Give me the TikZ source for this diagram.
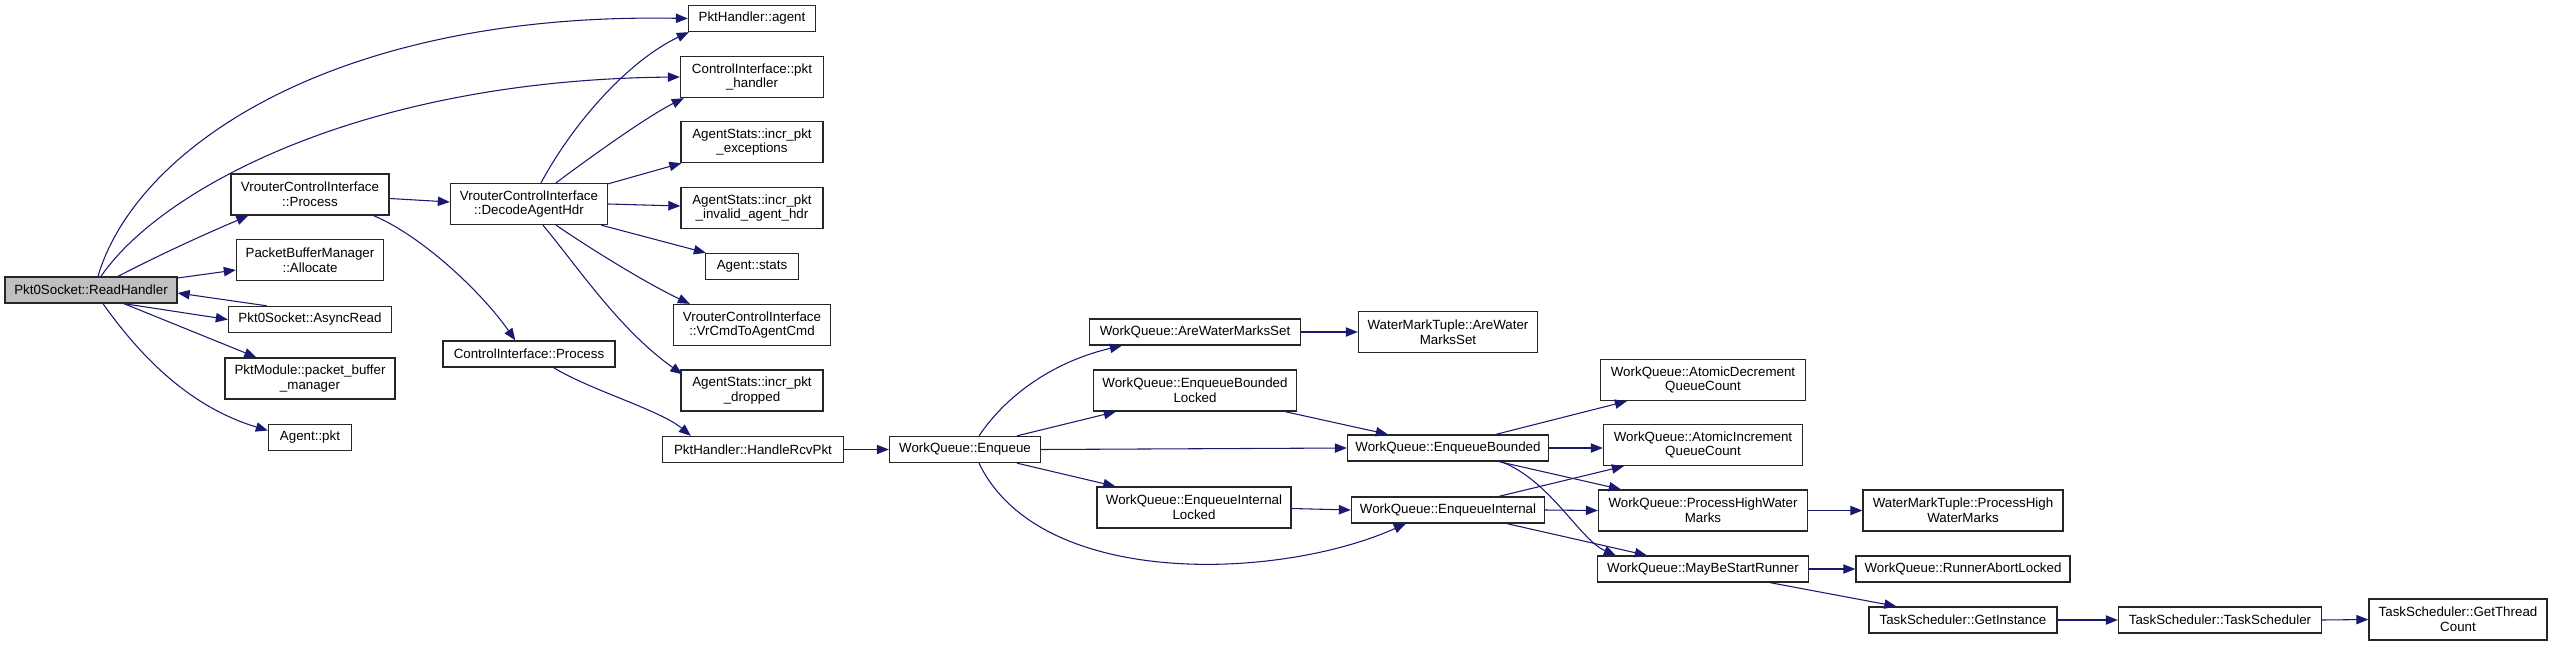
\documentclass[tikz,border=0pt]{standalone}
\usepackage{fontspec}
\setmainfont{Liberation Sans}
\usetikzlibrary{arrows.meta,calc}
\definecolor{callblue}{HTML}{191970}
\tikzset{
  fn/.style={draw=black!85, line width=1pt, fill=white, font=\fontsize{10}{11}\selectfont, align=center, inner xsep=2pt, inner ysep=0pt, minimum height=19.5pt},
  fntwo/.style={fn, minimum height=30.75pt},
  call/.style={draw=callblue, line width=0.8pt, -{Triangle[length=9pt,width=7pt]}}
}
\begin{document}
\begin{tikzpicture}[x=0.75pt,y=-0.75pt]
    \useasboundingbox (0,0) rectangle (2552,646);
    % boxes
    \node [fn, fill=black!25, minimum width=129pt] (readh) at (91,290) {Pkt0Socket::ReadHandler};
    \node [fntwo, minimum width=118.5pt] (vciproc) at (310,194.5) {VrouterControlInterface\\::Process};
    \node [fntwo, minimum width=110.25pt] (pbmalloc) at (310,260) {PacketBufferManager\\::Allocate};
    \node [fn, minimum width=122.25pt] (asyncread) at (310,319.5) {Pkt0Socket::AsyncRead};
    \node [fntwo, minimum width=127.5pt] (pktmodpbm) at (310,378.5) {PktModule::packet\_buffer\\\_manager};
    \node [fn, minimum width=62.25pt] (agentpkt) at (310,437.5) {Agent::pkt};
    \node [fntwo, minimum width=117.75pt] (decode) at (529,204) {VrouterControlInterface\\::DecodeAgentHdr};
    \node [fn, minimum width=129pt] (ciproc) at (529,354) {ControlInterface::Process};
    \node [fn, minimum width=95.25pt] (pkhagent) at (752,18.5) {PktHandler::agent};
    \node [fntwo, minimum width=107.25pt] (cipkth) at (752,77) {ControlInterface::pkt\\\_handler};
    \node [fntwo, minimum width=106.5pt] (exc) at (752,142) {AgentStats::incr\_pkt\\\_exceptions};
    \node [fntwo, minimum width=106.5pt] (invhdr) at (752,208) {AgentStats::incr\_pkt\\\_invalid\_agent\_hdr};
    \node [fn, minimum width=69.75pt] (stats) at (752,266.5) {Agent::stats};
    \node [fntwo, minimum width=117.75pt] (vrcmd) at (752,325) {VrouterControlInterface\\::VrCmdToAgentCmd};
    \node [fntwo, minimum width=106.5pt] (dropped) at (752,390.5) {AgentStats::incr\_pkt\\\_dropped};
    \node [fn, minimum width=135.75pt] (handlercv) at (753,449.5) {PktHandler::HandleRcvPkt};
    \node [fn, minimum width=113.25pt] (enq) at (965,449.5) {WorkQueue::Enqueue};
    \node [fn, minimum width=158.25pt] (arewms) at (1195,332) {WorkQueue::AreWaterMarksSet};
    \node [fntwo, minimum width=152.25pt] (ebl) at (1195,390.5) {WorkQueue::EnqueueBounded\\Locked};
    \node [fntwo, minimum width=145.5pt] (eil) at (1194,507.5) {WorkQueue::EnqueueInternal\\Locked};
    \node [fn, minimum width=150.75pt] (eb) at (1448,448) {WorkQueue::EnqueueBounded};
    \node [fn, minimum width=144.75pt] (ei) at (1448,510) {WorkQueue::EnqueueInternal};
    \node [fntwo, minimum width=134.25pt] (wmtaws) at (1448,332) {WaterMarkTuple::AreWater\\MarksSet};
    \node [fntwo, minimum width=153.75pt] (adqc) at (1703,380) {WorkQueue::AtomicDecrement\\QueueCount};
    \node [fntwo, minimum width=149.25pt] (aiqc) at (1703,445) {WorkQueue::AtomicIncrement\\QueueCount};
    \node [fntwo, minimum width=156.75pt] (phwm) at (1703,510.5) {WorkQueue::ProcessHighWater\\Marks};
    \node [fn, minimum width=158.25pt] (mbsr) at (1703,569) {WorkQueue::MayBeStartRunner};
    \node [fntwo, minimum width=150pt] (wmtphwm) at (1963,510.5) {WaterMarkTuple::ProcessHigh\\WaterMarks};
    \node [fn, minimum width=160.5pt] (ral) at (1963,569) {WorkQueue::RunnerAbortLocked};
    \node [fn, minimum width=141pt] (getinst) at (1963,620) {TaskScheduler::GetInstance};
    \node [fn, minimum width=152.25pt] (tsts) at (2220,620) {TaskScheduler::TaskScheduler};
    \node [fntwo, minimum width=133.5pt] (gtc) at (2458,619.5) {TaskScheduler::GetThread\\Count};
    % calls from ReadHandler
    \draw [call] ($(readh.north)+(7,0)$) .. controls (135,150) and (330,12) .. (pkhagent.west);
    \draw [call] ($(readh.north)+(10,0)$) .. controls (160,190) and (360,80) .. (cipkth.west);
    \draw [call] ($(readh.north)+(27,0)$) .. controls (165,252) and (210,232) .. ($(vciproc.south west)+(18,0)$);
    \draw [call] ($(readh.east)+(0,-12)$) -- ($(pbmalloc.west)+(0,10)$);
    \draw [call] ($(asyncread.north west)+(39,0)$) -- ($(readh.east)+(0,3)$);
    \draw [call] ($(readh.south)+(33,0)$) -- (asyncread.west);
    \draw [call] ($(readh.south)+(33,0)$) -- ($(pktmodpbm.north west)+(32,0)$);
    \draw [call] ($(readh.south)+(12,0)$) .. controls (150,370) and (200,410) .. ($(agentpkt.west)+(0,-7)$);
    % Process and DecodeAgentHdr
    \draw [call] ($(vciproc.east)+(0,4)$) -- ($(decode.west)+(0,-2)$);
    \draw [call] ($(vciproc.south east)+(-16,0)$) .. controls (420,235) and (480,290) .. ($(ciproc.north west)+(73,0)$);
    \draw [call] ($(decode.north)+(12,0)$) .. controls (575,120) and (630,60) .. ($(pkhagent.south west)+(1,0)$);
    \draw [call] ($(decode.north)+(27,0)$) .. controls (600,150) and (650,115) .. ($(cipkth.south west)+(4,0)$);
    \draw [call] ($(decode.north east)+(0,1)$) -- ($(exc.south west)+(1,0)$);
    \draw [call] (decode.east) -- ($(invhdr.west)+(0,-2)$);
    \draw [call] ($(decode.south east)+(-7,0)$) -- ($(stats.north west)+(1,0)$);
    \draw [call] ($(decode.south)+(27,0)$) .. controls (600,255) and (650,285) .. ($(vrcmd.north west)+(17,0)$);
    \draw [call] ($(decode.south)+(14,0)$) .. controls (580,270) and (620,330) .. ($(dropped.north west)+(2,5)$);
    \draw [call] ($(ciproc.south east)+(-62,0)$) .. controls (590,390) and (660,410) .. ($(handlercv.north west)+(29,0)$);
    % work queue
    \draw [call] (handlercv.east) -- (enq.west);
    \draw [call] ($(enq.north)+(14,0)$) .. controls (1010,390) and (1060,360) .. ($(arewms.south west)+(33,0)$);
    \draw [call] ($(enq.north)+(52,0)$) -- ($(ebl.south west)+(23,0)$);
    \draw [call] (enq.east) -- (eb.west);
    \draw [call] ($(enq.south)+(52,0)$) -- ($(eil.north west)+(19,0)$);
    \draw [call] ($(enq.south)+(14,0)$) .. controls (1040,590) and (1280,580) .. ($(ei.south west)+(55,0)$);
    \draw [call] ($(ebl.south east)+(-12,0)$) -- ($(eb.north west)+(41,0)$);
    \draw [call] ($(eil.east)+(0,1)$) -- (ei.west);
    \draw [call] (arewms.east) -- (wmtaws.west);
    \draw [call] ($(eb.north)+(48,0)$) -- ($(adqc.south west)+(27,0)$);
    \draw [call] (eb.east) -- ($(aiqc.west)+(0,3)$);
    \draw [call] ($(eb.south)+(51,0)$) -- ($(phwm.north west)+(23,0)$);
    \draw [call] ($(eb.south)+(53,0)$) .. controls (1550,480) and (1580,540) .. ($(mbsr.north west)+(19,0)$);
    \draw [call] ($(ei.north)+(51,0)$) -- ($(aiqc.south west)+(21,0)$);
    \draw [call] (ei.east) -- (phwm.west);
    \draw [call] ($(ei.south)+(59,0)$) -- ($(mbsr.north west)+(50,0)$);
    \draw [call] (phwm.east) -- (wmtphwm.west);
    \draw [call] (mbsr.east) -- (ral.west);
    \draw [call] ($(mbsr.south east)+(-39,0)$) -- ($(getinst.north west)+(28,0)$);
    \draw [call] (getinst.east) -- (tsts.west);
    \draw [call] (tsts.east) -- (gtc.west);
\end{tikzpicture}
\end{document}
